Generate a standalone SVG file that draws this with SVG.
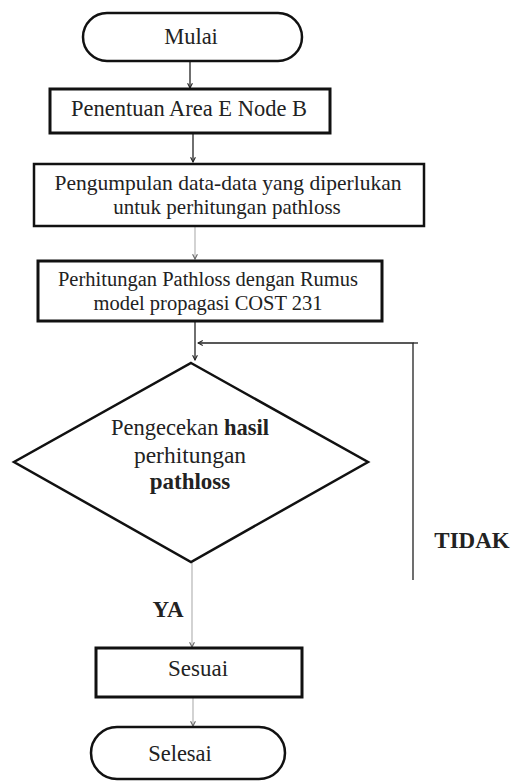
<svg xmlns="http://www.w3.org/2000/svg" width="516" height="781" viewBox="0 0 516 781">
<defs>
<style>
.shape{fill:#fff;stroke:#111;}
.t{font-family:"Liberation Serif","Times New Roman",serif;fill:#222;text-anchor:middle;dominant-baseline:central;}
.b{font-weight:bold;}
.dark{stroke:#222;stroke-width:1.3;fill:none;}
.light{stroke:#bbb;stroke-width:1.3;fill:none;}
</style>
<marker id="ah" viewBox="0 0 10 10" refX="9" refY="5" markerWidth="6" markerHeight="6" orient="auto" markerUnits="userSpaceOnUse">
<path d="M1,1 L9,5 L1,9" fill="none" stroke="#222" stroke-width="1.8"/>
</marker>
<marker id="ahl" viewBox="0 0 10 10" refX="9" refY="5" markerWidth="6" markerHeight="6" orient="auto" markerUnits="userSpaceOnUse">
<path d="M1,1 L9,5 L1,9" fill="none" stroke="#666" stroke-width="1.8"/>
</marker>
</defs>
<rect width="516" height="781" fill="#fff"/>
<g id="connectors">
<line class="dark" x1="190" y1="61" x2="190" y2="88" marker-end="url(#ah)"/>
<line class="dark" x1="193" y1="133" x2="193" y2="162" marker-end="url(#ah)"/>
<line class="light" x1="195" y1="226" x2="195" y2="259" marker-end="url(#ahl)"/>
<line class="dark" x1="195" y1="322" x2="195" y2="360" marker-end="url(#ah)"/>
<polyline class="dark" points="413,580 413,343 198,343" marker-end="url(#ah)"/>
<line class="dark" x1="413" y1="343" x2="418" y2="343"/>
<line class="light" x1="192" y1="562" x2="192" y2="647" marker-end="url(#ahl)"/>
<line class="light" x1="193" y1="698" x2="193" y2="726" marker-end="url(#ahl)"/>
</g>
<g id="mulai">
<rect class="shape" x="83" y="13" width="219" height="48" rx="24" ry="24" stroke-width="2.5"/>
<text class="t" x="191" y="36" font-size="22.5">Mulai</text>
</g>
<g id="penentuan">
<rect class="shape" x="50" y="89" width="280" height="44" stroke-width="3"/>
<text class="t" x="189" y="108" font-size="22.5">Penentuan Area E Node B</text>
</g>
<g id="pengumpulan">
<rect class="shape" x="34" y="164" width="390" height="62" stroke-width="2.5"/>
<text class="t" x="228" y="183" font-size="21.5">Pengumpulan data-data yang diperlukan</text>
<text class="t" x="227" y="207" font-size="21">untuk perhitungan pathloss</text>
</g>
<g id="perhitungan">
<rect class="shape" x="38" y="261" width="344" height="60" stroke-width="3"/>
<text class="t" x="208" y="279" font-size="20.5">Perhitungan Pathloss dengan Rumus</text>
<text class="t" x="208" y="303" font-size="20.5">model propagasi COST 231</text>
</g>
<g id="pengecekan">
<polygon class="shape" points="191,363 368,462 191,562 14,462" stroke-width="2.5"/>
<text class="t" x="190" y="427" font-size="22.5">Pengecekan <tspan class="b">hasil</tspan></text>
<text class="t" x="190" y="455" font-size="23.5">perhitungan</text>
<text class="t b" x="190" y="481" font-size="23">pathloss</text>
</g>
<g id="labels">
<text class="t b" x="472" y="540" font-size="23">TIDAK</text>
<text class="t b" x="168" y="609" font-size="23">YA</text>
</g>
<g id="sesuai">
<rect class="shape" x="96" y="648" width="206" height="49" stroke-width="3"/>
<text class="t" x="198" y="668" font-size="23">Sesuai</text>
</g>
<g id="selesai">
<rect class="shape" x="91" y="727" width="194" height="52" rx="26" ry="26" stroke-width="2.5"/>
<text class="t" x="180" y="753" font-size="22.5">Selesai</text>
</g>
</svg>
